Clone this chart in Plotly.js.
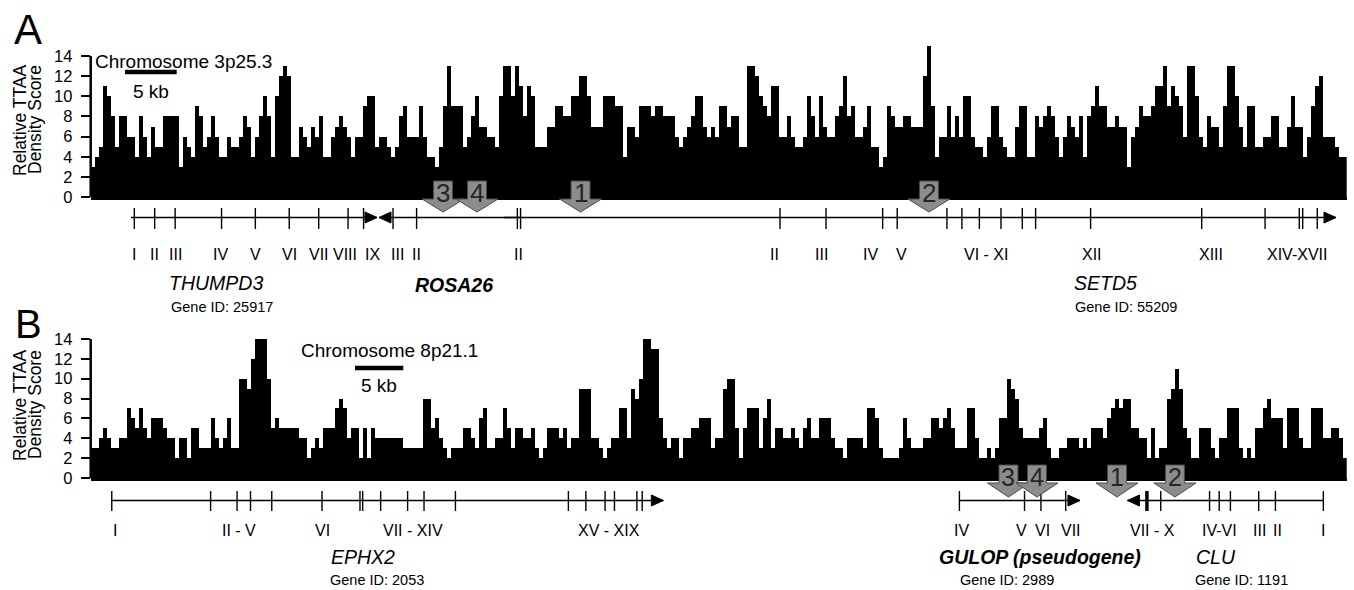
<!DOCTYPE html>
<html><head><meta charset="utf-8">
<script src="https://cdn.plot.ly/plotly-3.0.1.min.js"></script>
<style>html,body{margin:0;padding:0;background:#fff;}#chart{width:1354px;height:590px;}</style>
</head><body><div id="chart"></div>
<script>
// ---------- DATA ----------
// Relative TTAA density score per window, panel A (chromosome 3p25.3)
const densityA = [
3,4,5,11,10,8,5,8,8,6, 6,4,8,6,4,7,5,5,8,8, 8,8,3,6,5,4,9,8,5,6, 8,6,4,4,6,5,5,6,8,7,
4,6,8,10,8,4,10,12,13,12, 4,4,7,6,5,7,6,8,4,4, 6,7,8,7,6,4,6,6,9,10, 10,5,6,6,5,4,5,8,9,6,
6,6,9,
6,4,4,3,5,9,13,9,9,9, 5,6,8,10,7,7,6,6,5,10, 13,13,10,13,11,8,11,10,5,5, 5,7,7,9,9,8,8,10,10,12,
12,10,7,7,7,10,10,10,9,9, 4,7,7,6,9,9,9,8,9,9, 8,8,8,6,5,6,7,8,10,10, 7,6,7,6,9,
9,7,8,8,5,5,13,13,12,10, 9,8,11,11,6,6,8,6,5,5, 6,10,8,6,10,7,6,6,8,9, 12,8,9,6,6,7,9,5,5,3,
4,9,8,7,7,8,8,7,7,7, 12,15,9,4,6,6,9,6,8,6, 10,10,6,5,5,4,6,9,9,6, 5,4,4,7,9,9,4,4,
8,7,8,9,8,6,4,6,8,7, 6,8,4,8,9,11,9,9,7,7, 8,7,7,3,6,7,9,8,8,9, 11,11,13,9,11,10,9,6,13,13,
10,6,5,8,7,7,5,9,13,13, 10,7,5,9,9,5,5,6,6,8, 8,5,5,7,10,7,7,4,6,9, 11,12,6,6,6,5,4,4
];
// panel B (chromosome 8p21.1)
const densityB = [
3,3,4,5,4,3,3,4,4,7, 6,5,7,5,4,6,6,6,5,4, 4,2,4,4,2,5,5,3,3,3, 6,4,3,4,6,3,3,10,10,9,
12,14,14,14,10,5,6,5,5,5, 5,5,4,4,2,3,4,3,5,5, 5,7,8,7,4,5,5,2,5,2, 5,4,4,4,4,4,4,4,3,3,
3,3,3,
8,8,5,6,4,3,2,3,3,3, 5,5,4,3,6,7,3,3,4,4, 7,5,3,5,5,4,4,5,3,2, 3,5,5,5,4,5,3,4,4,9,
9,9,4,4,3,2,3,4,4,7, 7,4,9,8,10,14,14,13,13,6, 4,3,4,4,2,4,4,5,5,6, 6,6,3,4,4,
9,10,10,5,2,5,7,7,7,3, 6,8,3,5,5,4,4,5,4,3, 5,6,4,4,6,6,6,4,3,3, 2,4,4,4,4,3,7,7,6,3,
2,2,2,2,3,6,4,3,3,3, 4,4,6,6,5,6,7,5,3,3, 3,7,7,4,2,2,3,2,3,6, 6,10,9,8,5,4,4,4,
4,5,6,3,2,2,3,3,4,4, 4,3,4,3,5,5,5,4,6,7, 8,7,8,8,5,5,4,4,2,5, 2,3,3,8,9,11,9,5,4,2,
2,5,5,5,3,2,4,4,7,7, 7,3,2,3,2,5,5,7,8,6, 6,6,3,7,7,7,4,3,3,7, 7,7,4,4,5,5,4,2
];
const binKbA = 0.387;   // window size (kb), panel A
const binKbB = 0.414;   // window size (kb), panel B
const yTicks = [0,2,4,6,8,10,12,14];

// gene models (positions in kb along each panel)
const thumpd3 = {start:3.90, end:27.70, exons:[4.22,6.19,8.17,12.66,15.93,19.21,22.06,24.90,26.40]};
const thumpd3Lab = ['I','II','III','IV','V','VI','VII','VIII','IX'];
const thumpd3LabKb = [4.22,6.19,8.17,12.6,15.93,19.21,22.06,24.6,27.26];
const rosa26 = {start:27.89, end:41.59, exons:[29.25,31.53,41.28,41.59]};
const rosa26Lab = ['III','II','II'];
const rosa26LabKb = [29.67,31.53,41.38];
const setd5 = {start:39.99, end:120.48, exons:[66.69,71.14,76.62,78.03,82.84,84.29,85.98,88.07,90.13,91.42,96.74,107.49,113.62,116.93,117.26,118.67]};
const setd5Lab = ['II','III','IV','V','VI - XI','XII','XIII','XIV-XVII'];
const setd5LabKb = [66.11,70.66,75.4,78.49,86.58,96.88,108.37,116.68];
const sitesA = ['3','4','1','2'];
const sitesAKb = [34.09,37.38,47.39,81.10];

const ephx2 = {start:2.18, end:59.27, exons:[2.18,12.41,15.15,16.54,18.74,23.94,27.87,28.15,30.01,32.80,34.50,37.75,49.44,51.25,53.24,54.21,56.53,57.08]};
const ephx2Lab = ['I','II - V','VI','VII - XIV','XV - XIX'];
const ephx2LabKb = [2.48,15.35,24.03,33.4,53.6];
const gulop = {start:89.91, end:102.39, exons:[89.91,96.65,98.35,100.91]};
const gulopLab = ['IV','V','VI','VII'];
const gulopLabKb = [90.17,96.3,98.56,101.47];
const clu = {start:107.30, end:127.58, exons:[110.75,115.80,116.80,117.96,120.89,122.62,127.58], thick:[109.32]};
const cluLab = ['VII - X','IV-VI','III','II','I'];
const cluLabKb = [109.9,116.78,120.97,122.83,127.58];
const sitesB = ['3','4','1','2'];
const sitesBKb = [94.99,97.94,106.22,112.22];

// ---------- LAYOUT HELPERS ----------
const FONT = '"Liberation Sans", Arial, Helvetica, sans-serif';
const W = 1354, H = 590;
const PX_L = 90.7, PX_R = 1346.7;
const spanA = densityA.length*binKbA, spanB = densityB.length*binKbB;
const kpA = spanA/(PX_R-PX_L), kpB = spanB/(PX_R-PX_L);   // kb per pixel
const yp = p => 1 - p/H, xp = p => p/W;
const shapes = [], annotations = [];

function seg(xref, x0, x1, y0, y1, w, color){
  shapes.push({type:'line', xref, yref:'paper', x0, x1, y0:yp(y0), y1:yp(y1), line:{color:color||'#000', width:w}});
}
function head(xref, tip, dir, y, kp){
  const base = tip - dir*12*kp;
  shapes.push({type:'path', xref, yref:'paper', fillcolor:'#000', line:{color:'#000', width:1},
    path:`M ${tip},${yp(y)} L ${base},${yp(y-5.5)} L ${base},${yp(y+5.5)} Z`});
}
function gene(xref, kp, g, y, t0, t1, dir){
  seg(xref, g.start, g.end, y, y, 1.4);
  g.exons.forEach(e => seg(xref, e, e, t0, t1, 1.4));
  (g.thick||[]).forEach(e => seg(xref, e, e, t0, t1, 3.5));
  if (dir === 1) head(xref, g.end, 1, y, kp); else head(xref, g.start, -1, y, kp);
}
function labels(xref, texts, kbs, y, size){
  texts.forEach((t,i) => annotations.push({xref, yref:'paper', x:kbs[i], y:yp(y), text:t, showarrow:false,
    xanchor:'center', yanchor:'middle', font:{family:FONT, size, color:'#000'}}));
}
function txt(text, x, y, size, anchor, extra){
  annotations.push(Object.assign({xref:'paper', yref:'paper', x:xp(x), y:yp(y), text, showarrow:false,
    xanchor:anchor||'left', yanchor:'middle', font:{family:FONT, size, color:'#000'}}, extra||{}));
}
function site(xref, c, label, kp, top, mid, tip, fs){
  const s = 9.5*kp, h = 21*kp;
  shapes.push({type:'path', xref, yref:'paper', fillcolor:'#8c8c8c', line:{color:'#4a4a4a', width:1},
    path:`M ${c-s},${yp(top)} L ${c+s},${yp(top)} L ${c+s},${yp(mid)} L ${c+h},${yp(mid)} L ${c},${yp(tip)} L ${c-h},${yp(mid)} L ${c-s},${yp(mid)} Z`});
  annotations.push({xref, yref:'paper', x:c, y:yp((top+mid)/2+3), text:label, showarrow:false,
    xanchor:'center', yanchor:'middle', font:{family:FONT, size:fs, color:'#262626'}});
}

// y-axis lines (only 0..14)
shapes.push({type:'line', xref:'x domain', yref:'y', x0:0, x1:0, y0:0, y1:14, line:{color:'#000', width:2.5}});
shapes.push({type:'line', xref:'x2 domain', yref:'y2', x0:0, x1:0, y0:0, y1:14, line:{color:'#000', width:2.5}});

// scale bars (5 kb)
seg('x', 3.32, 3.32+5, 72, 72, 4.5);
seg('x2', 27.35, 27.35+5, 368, 368, 4.5);

// gene tracks
gene('x', kpA, thumpd3, 217.5, 208, 229, 1);
gene('x', kpA, rosa26, 217.5, 208, 229, -1);
gene('x', kpA, setd5, 217.5, 208, 229, 1);
labels('x', thumpd3Lab, thumpd3LabKb, 254, 16);
labels('x', rosa26Lab, rosa26LabKb, 254, 16);
labels('x', setd5Lab, setd5LabKb, 255, 16);

gene('x2', kpB, ephx2, 500.5, 491, 511, 1);
gene('x2', kpB, gulop, 500.5, 491, 511, 1);
gene('x2', kpB, clu, 500.5, 491, 511, -1);
labels('x2', ephx2Lab, ephx2LabKb, 530.5, 16);
labels('x2', gulopLab, gulopLabKb, 530.5, 16);
labels('x2', cluLab, cluLabKb, 530.5, 16);

// insertion sites
sitesA.forEach((s,i) => site('x', sitesAKb[i], s, kpA, 181, 199, 212, 26));
sitesB.forEach((s,i) => site('x2', sitesBKb[i], s, kpB, 465, 483, 497, 25));

// texts
txt('A', 28, 29, 42, 'center');
txt('B', 28, 324, 40, 'center');
txt('Chromosome 3p25.3', 93, 61, 19);
txt('5 kb', 151, 91, 19, 'center');
txt('Chromosome 8p21.1', 299, 351, 19);
txt('5 kb', 379, 385, 19, 'center');
txt('Relative TTAA', 20, 120, 17.5, 'center', {textangle:-90});
txt('Density Score', 35, 120, 17.5, 'center', {textangle:-90});
txt('Relative TTAA', 20, 405, 17.5, 'center', {textangle:-90});
txt('Density Score', 35, 405, 17.5, 'center', {textangle:-90});

txt('<i>THUMPD3</i>', 167, 283.5, 19.5);
txt('Gene ID: 25917', 169, 307, 14.5);
txt('<b><i>ROSA26</i></b>', 413, 285, 19.5);
txt('<i>SETD5</i>', 1072, 283.5, 19.5);
txt('Gene ID: 55209', 1073, 307, 14.5);
txt('<i>EPHX2</i>', 329, 557, 19.5);
txt('Gene ID: 2053', 328, 580, 14.5);
txt('<b><i>GULOP (pseudogene)</i></b>', 937, 557, 19.5);
txt('Gene ID: 2989', 958, 580, 14.5);
txt('<i>CLU</i>', 1194, 557, 19.5);
txt('Gene ID: 1191', 1193, 580, 14.5);

// ---------- TRACES ----------
const traces = [
  {type:'bar', x:densityA.map((_,i)=>(i+0.5)*binKbA), y:densityA, width:binKbA,
   marker:{color:'#000', line:{width:0}}, xaxis:'x', yaxis:'y', hoverinfo:'skip'},
  {type:'bar', x:densityB.map((_,i)=>(i+0.5)*binKbB), y:densityB, width:binKbB,
   marker:{color:'#000', line:{width:0}}, xaxis:'x2', yaxis:'y2', hoverinfo:'skip'}
];

const xBase = {domain:[xp(PX_L), xp(PX_R)], showline:true, linewidth:3, linecolor:'#000',
  showticklabels:false, ticks:'', showgrid:false, zeroline:false, fixedrange:true};
const yBase = {tickvals:yTicks, ticks:'outside', ticklen:9, tickwidth:2, tickcolor:'#000',
  ticklabelstandoff:5, showline:false, showgrid:false, zeroline:false, fixedrange:true,
  tickfont:{family:FONT, size:16.5, color:'#000'}};

const layout = {
  width:W, height:H, margin:{l:0,r:0,t:0,b:0}, paper_bgcolor:'#fff', plot_bgcolor:'rgba(0,0,0,0)',
  showlegend:false, bargap:0,
  xaxis:Object.assign({}, xBase, {range:[0, spanA], anchor:'y'}),
  yaxis:Object.assign({}, yBase, {domain:[yp(197), yp(40.9)], range:[0,15.5], anchor:'x'}),
  xaxis2:Object.assign({}, xBase, {range:[0, spanB], anchor:'y2'}),
  yaxis2:Object.assign({}, yBase, {domain:[yp(478), yp(333)], range:[0,14.6], anchor:'x2'}),
  shapes, annotations
};

Plotly.newPlot('chart', traces, layout, {staticPlot:true, displayModeBar:false});
</script>
</body></html>
